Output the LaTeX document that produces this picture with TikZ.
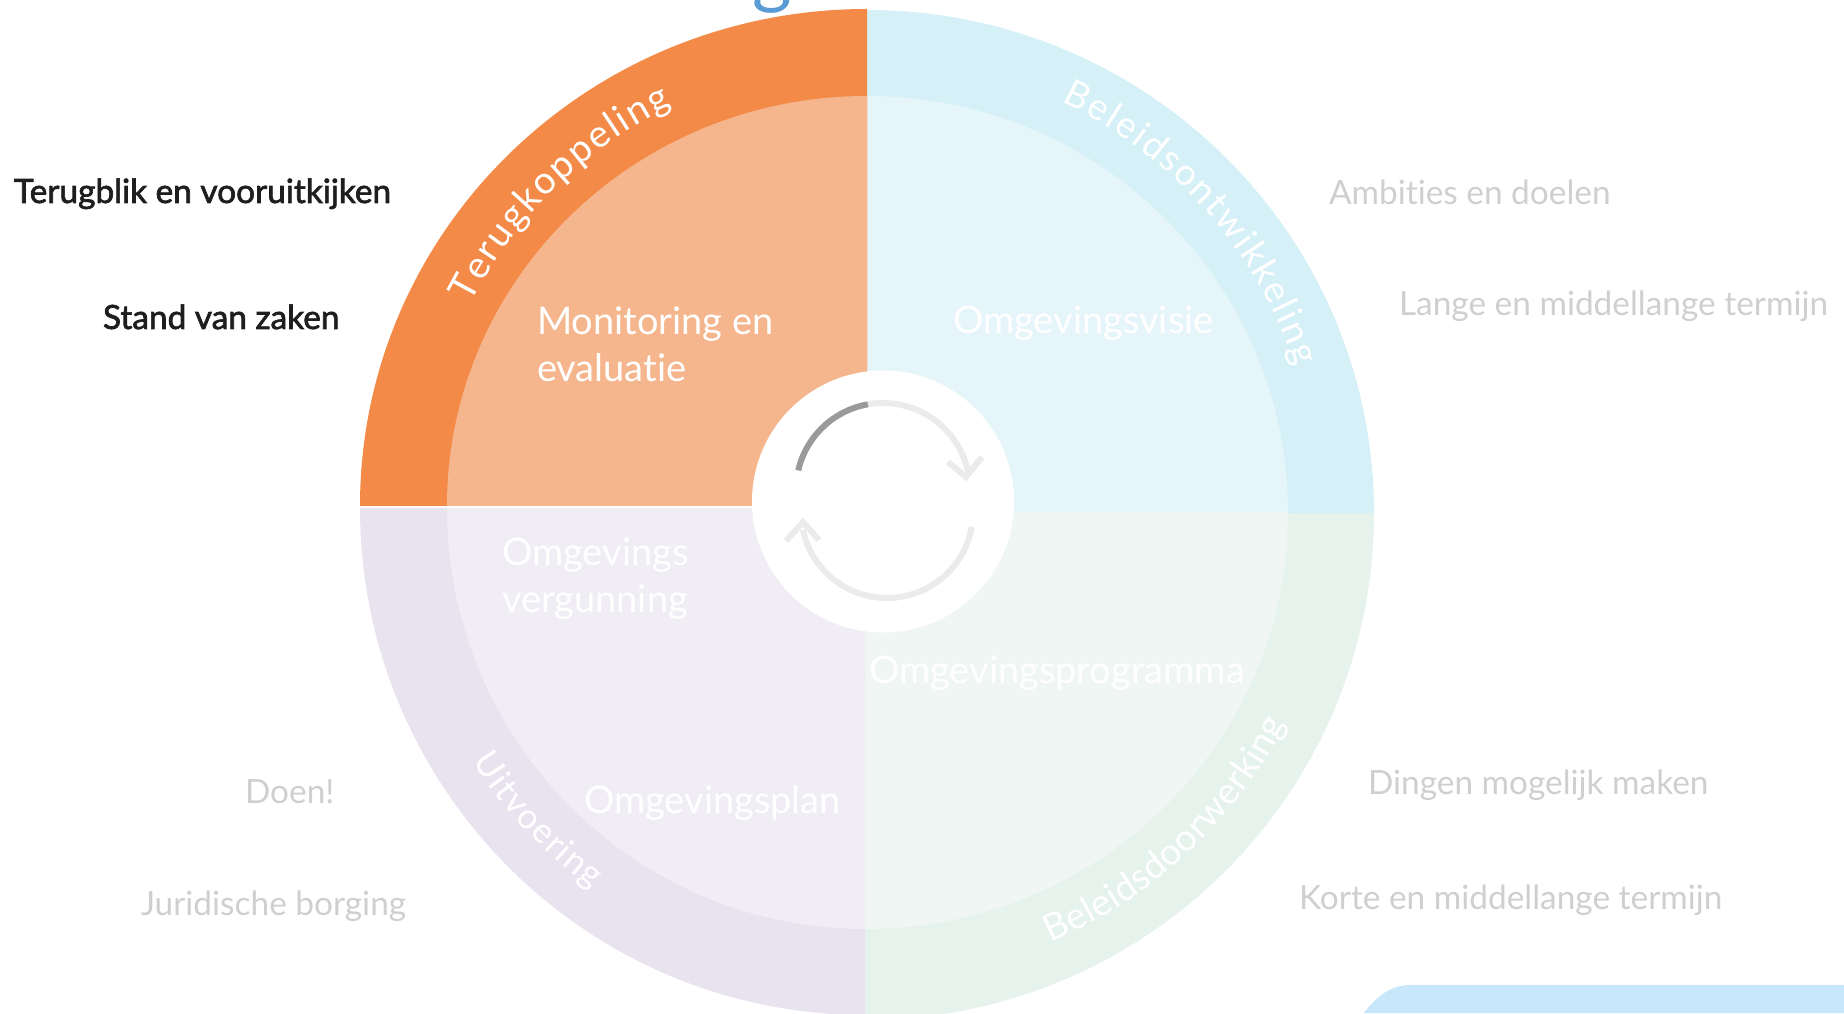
\documentclass[tikz,border=0pt]{standalone}
\usepackage{fontspec}
\setmainfont{Lato}[Ligatures=NoCommon]
\newfontfamily\blkfont{Lato}[Ligatures=NoCommon,FakeBold=2]
\usetikzlibrary{decorations.text}
\definecolor{orA}{HTML}{F38A47}\definecolor{orB}{HTML}{F5B68D}
\definecolor{teA}{HTML}{D5F0F7}\definecolor{teB}{HTML}{E6F5FA}
\definecolor{grA}{HTML}{E6F3EC}\definecolor{grB}{HTML}{F0F6F3}
\definecolor{puA}{HTML}{E8E3EF}\definecolor{puB}{HTML}{F0EDF5}
\definecolor{txtG}{HTML}{CFCFCF}\definecolor{txtK}{HTML}{1E1E1E}
\definecolor{arcD}{HTML}{9A9A9A}\definecolor{arcL}{HTML}{EBEBEB}
\definecolor{panel}{HTML}{C9E7FA}\definecolor{ttl}{HTML}{5B9BD5}
\newcommand{\fs}{\fontsize{33.4}{33.4}\selectfont}
\tikzset{
  lab/.style={anchor=base west,inner sep=0pt,outer sep=0pt,font=\fs},
  sidegrey/.style={lab,text=txtG},
  sideblack/.style={lab,text=txtK,font=\fs\blkfont},
  inwhite/.style={lab,text=white,font=\fontsize{38}{38}\selectfont},
  arcw/.style={line width=6pt,line cap=butt,line join=miter}
}
\begin{document}
\begin{tikzpicture}[x=1pt,y=1pt]
\useasboundingbox (0,0) rectangle (1844,1013);
% blue panel
\fill[panel] (1844,28) -- (1410,28) .. controls (1390,28) and (1375,15) .. (1364,0) -- (1844,0) -- cycle;
% title fragment
\node[anchor=base,inner sep=0pt,text=ttl,font=\fontsize{76}{76}\selectfont] (titleg) at (772,1013) {g};
% quadrants
\fill[grA] (865,500) -- (1374,500) arc[start angle=0,end angle=-90,x radius=509,y radius=507] -- cycle;
\fill[grB] (865,500) -- (1288,500) arc[start angle=0,end angle=-90,x radius=423,y radius=416] -- cycle;
\fill[puA] (865,505) -- (360,505) arc[start angle=180,end angle=270,x radius=505,y radius=507] -- cycle;
\fill[puB] (865,505) -- (447,505) arc[start angle=180,end angle=270,x radius=418,y radius=421] -- cycle;
\fill[teA] (867,500) -- (1374,500) arc[start angle=0,end angle=90,x radius=507,y radius=503] -- cycle;
\fill[teB] (867,500) -- (1288,500) arc[start angle=0,end angle=90,x radius=421,y radius=417] -- cycle;
\fill[orA] (867,507) -- (360,507) arc[start angle=180,end angle=90,x radius=507,y radius=497] -- cycle;
\fill[orB] (867,507) -- (447,507) arc[start angle=180,end angle=90,x radius=420,y radius=410] -- cycle;
% centre
\fill[white] (883,511.5) circle[radius=131];
\coordinate (topc) at (883,523);
\coordinate (botc) at (887,501);
\draw[arcw,arcL] (topc) ++(100:87) arc[start angle=100,end angle=9,radius=87];
\draw[arcw,arcD] (topc) ++(167:87) arc[start angle=167,end angle=100,radius=87];
\draw[arcw,arcL] (948,551) -- (966,536) -- (982,556);
\draw[arcw,arcL] (botc) ++(-10:86) arc[start angle=-10,end angle=-168,radius=86];
\draw[arcw,arcL] (786,472) -- (803,491) -- (819,473);
% ring texts
\path[decorate,decoration={text along path,text align=fit to path,text={|\fontsize{38}{38}\selectfont\color{white}|Terugkoppeling}}]
  (867,507) ++(153:445) arc[start angle=153,end angle=116,radius=445];
\path[decorate,decoration={text along path,text align=fit to path,text={|\fontsize{37}{37}\selectfont\color{white}|Beleidsontwikkeling}}]
  (867,503) ++(64.5:452) arc[start angle=64.5,end angle=18.5,radius=452];
\path[decorate,decoration={text along path,text align=fit to path,text={|\fontsize{37}{37}\selectfont\color{white}|Beleidsdoorwerking}}]
  (867,503) ++(293:470) arc[start angle=293,end angle=333,radius=470];
\path[decorate,decoration={text along path,text align=fit to path,text={|\fontsize{35}{35}\selectfont\color{white}|Uitvoering}}]
  (867,503) ++(212.5:468) arc[start angle=212.5,end angle=234,radius=468];
% inner labels
\node[inwhite] (mon1) at (537,678) {Monitoring en};
\node[inwhite] (mon2) at (537,631) {evaluatie};
\node[inwhite] (visie) at (953,679) {Omgevingsvisie};
\node[inwhite] (verg1) at (502,447) {Omgevings};
\node[inwhite] (verg2) at (502,400) {vergunning};
\node[inwhite] (prog) at (869,330) {Omgevingsprogramma};
\node[inwhite] (plan) at (584,200) {Omgevingsplan};
% side labels
\node[sideblack] (terug) at (14,810) {Terugblik en vooruitkijken};
\node[sideblack] (stand) at (103,684) {Stand van zaken};
\node[sidegrey] (ambi) at (1329,808) {Ambities en doelen};
\node[sidegrey] (lange) at (1399,697) {Lange en middellange termijn};
\node[sidegrey] (dingen) at (1368,219) {Dingen mogelijk maken};
\node[sidegrey] (korte) at (1299,104) {Korte en middellange termijn};
\node[sidegrey] (doen) at (245,210) {Doen!};
\node[sidegrey] (juri) at (141,98) {Juridische borging};
\end{tikzpicture}
\end{document}
